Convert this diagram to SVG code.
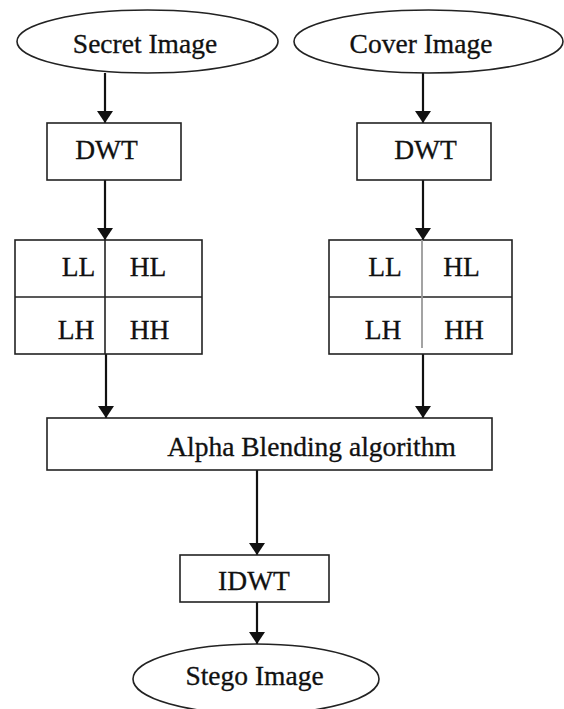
<svg xmlns="http://www.w3.org/2000/svg" width="564" height="709" viewBox="0 0 564 709">
<style>
.sh{fill:#fff;stroke:#222;stroke-width:1.6}
.t{font-family:"Liberation Serif","Times New Roman",serif;font-size:27.5px;fill:#111;text-anchor:middle;stroke:#111;stroke-width:0.3}
.c{stroke:#111;stroke-width:2.2;fill:none}
</style>
<defs>
<marker id="ah" viewBox="0 0 12 16" refX="12" refY="8" markerWidth="12" markerHeight="16" markerUnits="userSpaceOnUse" orient="auto">
<path d="M0,0 L12,8 L0,16 z" fill="#111"/>
</marker>
</defs>
<rect width="564" height="709" fill="#fff"/>
<g id="connectors">
<line class="c" x1="105" y1="73" x2="105" y2="123" marker-end="url(#ah)"/>
<line class="c" x1="423" y1="73" x2="423" y2="123" marker-end="url(#ah)"/>
<line class="c" x1="105" y1="180" x2="105" y2="240" marker-end="url(#ah)"/>
<line class="c" x1="423" y1="180" x2="423" y2="240" marker-end="url(#ah)"/>
<line class="c" x1="106" y1="354" x2="106" y2="418" marker-end="url(#ah)"/>
<line class="c" x1="423" y1="354" x2="423" y2="418" marker-end="url(#ah)"/>
<line class="c" x1="257" y1="470" x2="257" y2="555" marker-end="url(#ah)"/>
<line class="c" x1="257" y1="602" x2="257" y2="644" marker-end="url(#ah)"/>
</g>
<g id="secret">
<ellipse class="sh" cx="147.5" cy="41.5" rx="130.5" ry="31.5"/>
<text class="t" x="145" y="53">Secret Image</text>
</g>
<g id="cover">
<ellipse class="sh" cx="428.5" cy="41.5" rx="134.5" ry="31.5"/>
<text class="t" x="421" y="53">Cover Image</text>
</g>
<g id="dwt1">
<rect class="sh" x="47" y="123" width="134" height="57"/>
<text class="t" x="106.5" y="159">DWT</text>
</g>
<g id="dwt2">
<rect class="sh" x="357" y="123" width="134" height="57"/>
<text class="t" x="425.5" y="159">DWT</text>
</g>
<g id="bands1">
<rect class="sh" x="15" y="240" width="187" height="114"/>
<line x1="15" y1="297" x2="202" y2="297" stroke="#222" stroke-width="1.6"/>
<line x1="105" y1="240" x2="105" y2="354" stroke="#222" stroke-width="1.6"/>
<text class="t" x="78.5" y="276">LL</text>
<text class="t" x="148" y="276">HL</text>
<text class="t" x="76" y="339">LH</text>
<text class="t" x="149.5" y="339">HH</text>
</g>
<g id="bands2">
<rect class="sh" x="329" y="240" width="183" height="114"/>
<line x1="329" y1="297" x2="512" y2="297" stroke="#222" stroke-width="1.6"/>
<line x1="422" y1="240" x2="422" y2="348" stroke="#999" stroke-width="1.8"/>
<text class="t" x="385" y="276">LL</text>
<text class="t" x="461.5" y="276">HL</text>
<text class="t" x="383" y="339">LH</text>
<text class="t" x="464" y="339">HH</text>
</g>
<g id="alpha">
<rect class="sh" x="47" y="418" width="445" height="52"/>
<text class="t" x="311.5" y="456">Alpha Blending algorithm</text>
</g>
<g id="idwt">
<rect class="sh" x="180" y="555" width="149" height="47"/>
<text class="t" x="254" y="590">IDWT</text>
</g>
<g id="stego">
<ellipse class="sh" cx="256" cy="679" rx="123" ry="35"/>
<text class="t" x="254.5" y="685">Stego Image</text>
</g>
</svg>
